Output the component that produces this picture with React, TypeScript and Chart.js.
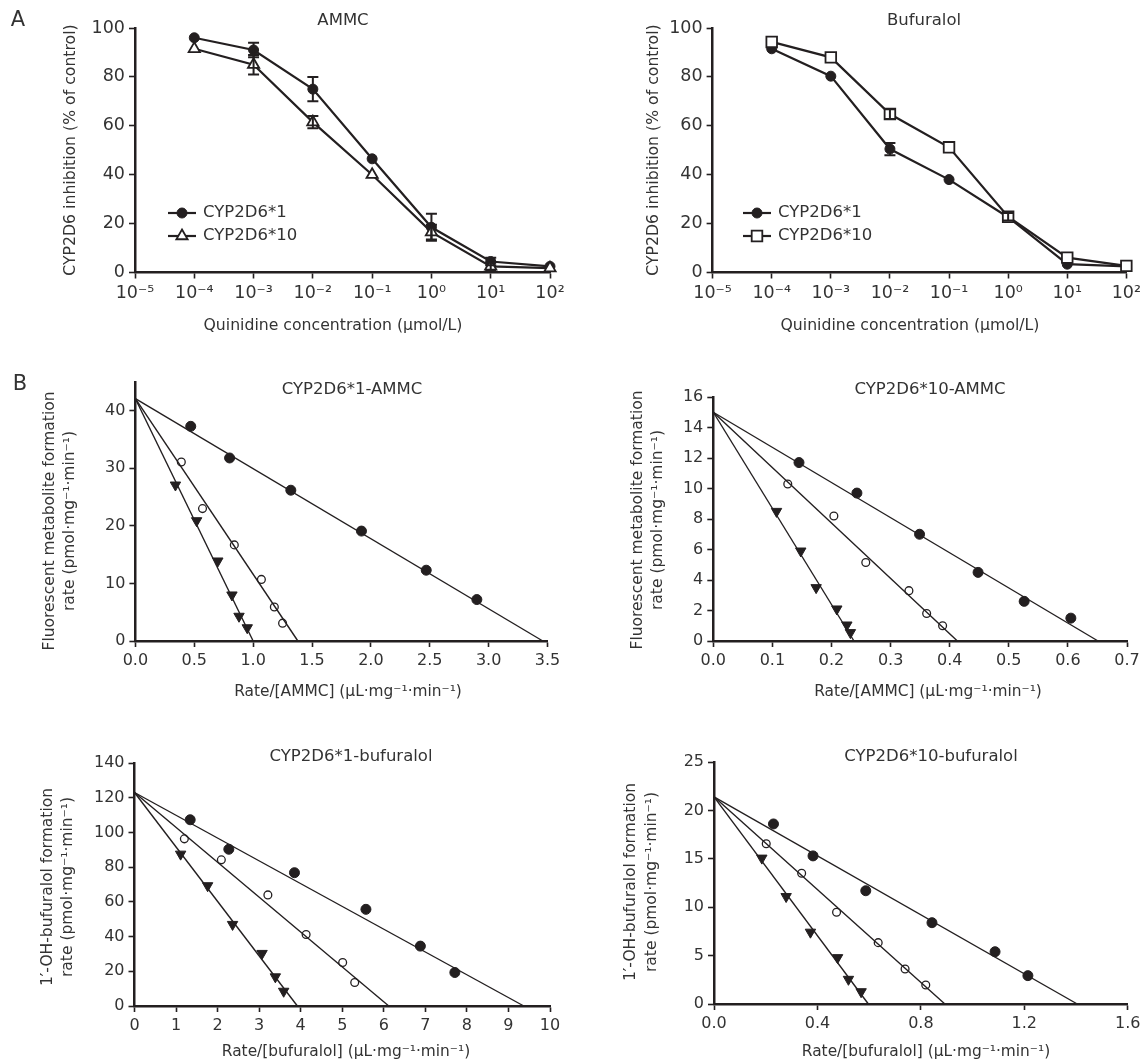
import React, { useEffect, useRef } from 'react';
import { Chart, registerables } from 'chart.js';

Chart.register(...registerables);

const W = 1145;
const H = 1063;
const FONT = '"DejaVu Sans", "Liberation Sans", sans-serif';
const INK = '#231f20';
const TEXT = '#333333';

// ---------------- Panel A: inhibition curves ----------------
const concentrations = [1e-4, 1e-3, 1e-2, 1e-1, 1, 10, 100];
const decadeExponents = [-5, -4, -3, -2, -1, 0, 1, 2];
const inhibitionTicks = [0, 20, 40, 60, 80, 100];

const ammcStar1 = [96, 91, 75, 46.5, 18.5, 4.5, 2.5];
const ammcStar1Err = [0, 3, 5, 0, 5.5, 1.5, 0];
const ammcStar10 = [91.5, 85, 61.5, 40, 16.5, 2.5, 1.8];
const ammcStar10Err = [0, 4, 2.5, 0, 3, 1.5, 0];

const bufStar1 = [91.5, 80.3, 50.5, 38, 22.6, 3.4, 2.5];
const bufStar1Err = [0, 0, 2.5, 0, 0, 0, 0];
const bufStar10 = [94.3, 88, 64.8, 51.2, 22.8, 6.1, 2.7];
const bufStar10Err = [0, 0, 2, 0, 1.5, 0, 0];

// ---------------- Panel B: Eadie-Hofstee plots ----------------
// B1 CYP2D6*1-AMMC
const b1XTicks = [0, 0.5, 1, 1.5, 2, 2.5, 3, 3.5];
const b1YTicks = [0, 10, 20, 30, 40];
const b1FilledX = [0.47, 0.8, 1.32, 1.92, 2.47, 2.9];
const b1FilledY = [37.3, 31.8, 26.2, 19.1, 12.3, 7.2];
const b1OpenX = [0.39, 0.57, 0.84, 1.07, 1.18, 1.25];
const b1OpenY = [31.1, 23.0, 16.7, 10.7, 5.9, 3.1];
const b1TriX = [0.34, 0.52, 0.7, 0.82, 0.88, 0.95];
const b1TriY = [27.1, 20.9, 13.9, 8.0, 4.3, 2.3];
const b1Vmax = 42.1;
const b1XIntercepts = [3.46, 1.38, 1.0];

// B2 CYP2D6*10-AMMC
const b2XTicks = [0, 0.1, 0.2, 0.3, 0.4, 0.5, 0.6, 0.7];
const b2YTicks = [0, 2, 4, 6, 8, 10, 12, 14, 16];
const b2FilledX = [0.145, 0.243, 0.349, 0.448, 0.526, 0.605];
const b2FilledY = [11.7, 9.7, 7.0, 4.5, 2.6, 1.5];
const b2OpenX = [0.126, 0.204, 0.258, 0.331, 0.361, 0.388];
const b2OpenY = [10.3, 8.2, 5.15, 3.3, 1.8, 1.0];
const b2TriX = [0.107, 0.148, 0.174, 0.209, 0.226, 0.232];
const b2TriY = [8.5, 5.9, 3.5, 2.1, 1.05, 0.55];
const b2Vmax = 15.0;
const b2XIntercepts = [0.651, 0.413, 0.238];

// B3 CYP2D6*1-bufuralol
const b3XTicks = [0, 1, 2, 3, 4, 5, 6, 7, 8, 9, 10];
const b3YTicks = [0, 20, 40, 60, 80, 100, 120, 140];
const b3FilledX = [1.34, 2.27, 3.85, 5.57, 6.88, 7.71];
const b3FilledY = [107.3, 90.3, 76.8, 55.7, 34.5, 19.3];
const b3OpenX = [1.2, 2.09, 3.21, 4.13, 5.01, 5.3];
const b3OpenY = [96.3, 84.2, 64.0, 41.2, 25.1, 13.5];
const b3TriX = [1.11, 1.76, 2.36, 3.07, 3.39, 3.59];
const b3TriY = [87.5, 69.3, 47.0, 30.3, 16.8, 8.5];
const b3Vmax = 123;
const b3XIntercepts = [9.37, 6.12, 3.92];

// B4 CYP2D6*10-bufuralol
const b4XTicks = [0, 0.4, 0.8, 1.2, 1.6];
const b4YTicks = [0, 5, 10, 15, 20, 25];
const b4FilledX = [0.23, 0.383, 0.587, 0.843, 1.087, 1.214];
const b4FilledY = [18.6, 15.3, 11.7, 8.4, 5.4, 2.93];
const b4OpenX = [0.202, 0.339, 0.474, 0.635, 0.739, 0.819];
const b4OpenY = [16.55, 13.5, 9.48, 6.34, 3.62, 1.97];
const b4TriX = [0.185, 0.279, 0.373, 0.478, 0.52, 0.569];
const b4TriY = [15.07, 11.1, 7.42, 4.79, 2.55, 1.27];
const b4Vmax = 21.4;
const b4XIntercepts = [1.405, 0.893, 0.597];

// ---------------- helpers ----------------
const SUP: Record<string, string> = {
  '-': '⁻', '0': '⁰', '1': '¹', '2': '²', '3': '³', '4': '⁴',
  '5': '⁵', '6': '⁶', '7': '⁷', '8': '⁸', '9': '⁹',
};
const sup = (s: string) => s.split('').map((c) => SUP[c] ?? c).join('');
const decadeLabel = (v: number) => '10' + sup(String(Math.round(Math.log10(v))));

const zip = (xs: number[], ys: number[]) => xs.map((x, i) => ({ x, y: ys[i] }));

function drawMarker(ctx: CanvasRenderingContext2D, m: any, x: number, y: number) {
  ctx.save();
  ctx.beginPath();
  const r = m.radius;
  if (m.style === 'circle') {
    ctx.arc(x, y, r, 0, Math.PI * 2);
  } else if (m.style === 'triangle') {
    ctx.moveTo(x, y - r);
    ctx.lineTo(x + r * Math.sin((2 * Math.PI) / 3), y - r * Math.cos((2 * Math.PI) / 3));
    ctx.lineTo(x + r * Math.sin((4 * Math.PI) / 3), y - r * Math.cos((4 * Math.PI) / 3));
    ctx.closePath();
  } else {
    const s = r * Math.SQRT1_2;
    ctx.rect(x - s, y - s, 2 * s, 2 * s);
  }
  ctx.fillStyle = m.fill;
  ctx.fill();
  ctx.lineWidth = m.borderWidth;
  ctx.strokeStyle = INK;
  ctx.stroke();
  ctx.restore();
}

const errorBarPlugin = {
  id: 'errorBars',
  afterDatasetsDraw(chart: any) {
    const ctx = chart.ctx;
    const xs = chart.scales.x;
    const ys = chart.scales.y;
    chart.data.datasets.forEach((ds: any) => {
      if (!ds.errors) return;
      ds.data.forEach((pt: any, j: number) => {
        const e = ds.errors[j];
        if (!e) return;
        const px = xs.getPixelForValue(pt.x);
        const top = ys.getPixelForValue(pt.y + e);
        const bot = ys.getPixelForValue(pt.y - e);
        ctx.save();
        ctx.strokeStyle = INK;
        ctx.lineWidth = 2;
        ctx.beginPath();
        ctx.moveTo(px, top);
        ctx.lineTo(px, bot);
        ctx.moveTo(px - 5.5, top);
        ctx.lineTo(px + 5.5, top);
        ctx.moveTo(px - 5.5, bot);
        ctx.lineTo(px + 5.5, bot);
        ctx.stroke();
        ctx.restore();
      });
    });
  },
};

const legendPlugin = {
  id: 'lineLegend',
  afterDraw(chart: any, _args: any, opts: any) {
    if (!opts || !opts.show) return;
    const ctx = chart.ctx;
    chart.data.datasets.forEach((ds: any, i: number) => {
      if (!ds.legendMarker) return;
      const y = opts.y + i * opts.dy;
      ctx.save();
      ctx.strokeStyle = INK;
      ctx.lineWidth = 2.2;
      ctx.beginPath();
      ctx.moveTo(opts.x, y);
      ctx.lineTo(opts.x + opts.len, y);
      ctx.stroke();
      ctx.restore();
      drawMarker(ctx, ds.legendMarker, opts.x + opts.len / 2, y);
      ctx.save();
      ctx.fillStyle = TEXT;
      ctx.font = `${opts.size}px ${FONT}`;
      ctx.textAlign = 'left';
      ctx.textBaseline = 'middle';
      ctx.fillText(ds.label, opts.x + opts.len + 7, y);
      ctx.restore();
    });
  },
};

const textPlugin = {
  id: 'panelTexts',
  afterDraw(chart: any, _args: any, opts: any) {
    if (!opts || !opts.items) return;
    const ctx = chart.ctx;
    opts.items.forEach((t: any) => {
      ctx.save();
      ctx.translate(t.x, t.y);
      if (t.rotate) ctx.rotate(t.rotate);
      ctx.fillStyle = TEXT;
      ctx.font = `${t.size}px ${FONT}`;
      ctx.textAlign = t.align || 'center';
      ctx.textBaseline = 'middle';
      ctx.fillText(t.text, 0, 0);
      ctx.restore();
    });
  },
};

type Area = { l: number; t: number; r: number; b: number };

function axisOptions(area: Area, xs: any, ys: any, tickSize: number) {
  const common = {
    grid: {
      display: true,
      drawOnChartArea: false,
      drawTicks: true,
      tickLength: 6,
      tickWidth: 1.6,
      tickColor: INK,
    },
    border: { display: true, color: INK, width: 2.5 },
  };
  return {
    x: {
      type: xs.type,
      min: xs.min,
      max: xs.max,
      afterFit: (s: any) => {
        s.height = 40;
      },
      afterBuildTicks: (s: any) => {
        s.ticks = xs.ticks.map((v: number) => ({ value: v }));
      },
      ticks: {
        callback: (v: any) => xs.format(Number(v)),
        font: { family: FONT, size: tickSize },
        color: TEXT,
        maxRotation: 0,
        autoSkip: false,
        padding: 4,
      },
      ...common,
    },
    y: {
      type: 'linear',
      min: ys.min,
      max: ys.max,
      afterFit: (s: any) => {
        s.width = area.l;
      },
      afterBuildTicks: (s: any) => {
        s.ticks = ys.ticks.map((v: number) => ({ value: v }));
      },
      ticks: {
        callback: (v: any) => String(v),
        font: { family: FONT, size: tickSize },
        color: TEXT,
        autoSkip: false,
        padding: 4,
      },
      ...common,
    },
  };
}

function baseOptions(area: Area) {
  return {
    responsive: false,
    animation: false,
    events: [],
    layout: {
      padding: { left: 0, top: area.t, right: W - area.r, bottom: H - area.b - 40 },
    },
  };
}

function panelA(p: any) {
  const area: Area = p.area;
  const r2 = p.style2 === 'rect' ? 7.5 : 6.5;
  return {
    type: 'line',
    data: {
      datasets: [
        {
          label: 'CYP2D6*10',
          data: zip(concentrations, p.s2),
          errors: p.e2,
          borderColor: INK,
          borderWidth: 2.2,
          tension: 0,
          clip: false,
          pointStyle: p.style2,
          pointRadius: r2,
          pointBackgroundColor: '#ffffff',
          pointBorderColor: INK,
          pointBorderWidth: 1.8,
          legendMarker: { style: p.style2, radius: r2, fill: '#ffffff', borderWidth: 1.8 },
        },
        {
          label: 'CYP2D6*1',
          data: zip(concentrations, p.s1),
          errors: p.e1,
          borderColor: INK,
          borderWidth: 2.2,
          tension: 0,
          clip: false,
          pointStyle: 'circle',
          pointRadius: 5,
          pointBackgroundColor: INK,
          pointBorderColor: INK,
          pointBorderWidth: 1,
          legendMarker: { style: 'circle', radius: 5, fill: INK, borderWidth: 1 },
        },
      ],
    },
    options: {
      ...baseOptions(area),
      scales: axisOptions(
        area,
        {
          type: 'logarithmic',
          min: 1e-5,
          max: 100,
          ticks: decadeExponents.map((e) => Math.pow(10, e)),
          format: decadeLabel,
        },
        { min: 0, max: 100, ticks: inhibitionTicks },
        17.5,
      ),
      plugins: {
        legend: { display: false },
        tooltip: { enabled: false },
        lineLegend: { show: true, ...p.legend },
        panelTexts: { items: p.texts },
      },
    },
    plugins: [errorBarPlugin, legendPlugin, textPlugin],
  };
}

function panelB(p: any) {
  const area: Area = p.area;
  const lineDs = (xint: number) => ({
    type: 'line',
    data: [
      { x: 0, y: p.vmax },
      { x: xint, y: 0 },
    ],
    borderColor: INK,
    borderWidth: 1.4,
    pointRadius: 0,
    showLine: true,
    clip: false,
  });
  return {
    type: 'scatter',
    data: {
      datasets: [
        lineDs(p.xint[0]),
        lineDs(p.xint[1]),
        lineDs(p.xint[2]),
        {
          data: zip(p.fx, p.fy),
          pointStyle: 'circle',
          pointRadius: 5,
          pointBackgroundColor: INK,
          pointBorderColor: INK,
          pointBorderWidth: 1,
          clip: false,
        },
        {
          data: zip(p.ox, p.oy),
          pointStyle: 'circle',
          pointRadius: 3.9,
          pointBackgroundColor: '#ffffff',
          pointBorderColor: INK,
          pointBorderWidth: 1.3,
          clip: false,
        },
        {
          data: zip(p.tx, p.ty),
          pointStyle: 'triangle',
          rotation: 180,
          pointRotation: 180,
          pointRadius: 6,
          pointBackgroundColor: INK,
          pointBorderColor: INK,
          pointBorderWidth: 1,
          clip: false,
        },
      ],
    },
    options: {
      ...baseOptions(area),
      scales: axisOptions(
        area,
        { type: 'linear', min: p.xTicks[0], max: p.xmax, ticks: p.xTicks, format: p.xfmt },
        { min: 0, max: p.ymax, ticks: p.yTicks },
        16,
      ),
      plugins: {
        legend: { display: false },
        tooltip: { enabled: false },
        panelTexts: { items: p.texts },
      },
    },
    plugins: [textPlugin],
  };
}

const ROT = -Math.PI / 2;
const UNIT = '(pmol·mg⁻¹·min⁻¹)';
const XUNIT = '(μL·mg⁻¹·min⁻¹)';
const fix1 = (v: number) => v.toFixed(1);
const int0 = (v: number) => String(Math.round(v));

const configs = [
  panelA({
    area: { l: 135, t: 28, r: 550, b: 272.5 },
    s1: ammcStar1,
    e1: ammcStar1Err,
    s2: ammcStar10,
    e2: ammcStar10Err,
    style2: 'triangle',
    legend: { x: 168, y: 236, dy: -23, len: 28, size: 16.5 },
    texts: [
      { text: 'A', x: 18, y: 21, size: 21 },
      { text: 'AMMC', x: 343, y: 21, size: 16.5 },
      { text: 'CYP2D6 inhibition (% of control)', x: 71, y: 150, size: 15.7, rotate: ROT },
      { text: 'Quinidine concentration (μmol/L)', x: 333, y: 326, size: 15.7 },
    ],
  }),
  panelA({
    area: { l: 712.6, t: 28, r: 1127.7, b: 272.5 },
    s1: bufStar1,
    e1: bufStar1Err,
    s2: bufStar10,
    e2: bufStar10Err,
    style2: 'rect',
    legend: { x: 743, y: 236, dy: -23, len: 28, size: 16.5 },
    texts: [
      { text: 'Bufuralol', x: 924, y: 21, size: 16.5 },
      { text: 'CYP2D6 inhibition (% of control)', x: 654, y: 150, size: 15.7, rotate: ROT },
      { text: 'Quinidine concentration (μmol/L)', x: 910, y: 326, size: 15.7 },
    ],
  }),
  panelB({
    area: { l: 135.4, t: 382, r: 547.5, b: 641 },
    fx: b1FilledX, fy: b1FilledY, ox: b1OpenX, oy: b1OpenY, tx: b1TriX, ty: b1TriY,
    vmax: b1Vmax, xint: b1XIntercepts,
    xTicks: b1XTicks, yTicks: b1YTicks, xmax: 3.5, ymax: 45, xfmt: fix1,
    texts: [
      { text: 'B', x: 20, y: 385, size: 21 },
      { text: 'CYP2D6*1-AMMC', x: 352, y: 390, size: 16.5 },
      { text: 'Fluorescent metabolite formation', x: 50, y: 521, size: 15.5, rotate: ROT },
      { text: 'rate ' + UNIT, x: 70, y: 521, size: 15.5, rotate: ROT },
      { text: 'Rate/[AMMC] ' + XUNIT, x: 348, y: 692, size: 15.4 },
    ],
  }),
  panelB({
    area: { l: 713.3, t: 397, r: 1127, b: 641 },
    fx: b2FilledX, fy: b2FilledY, ox: b2OpenX, oy: b2OpenY, tx: b2TriX, ty: b2TriY,
    vmax: b2Vmax, xint: b2XIntercepts,
    xTicks: b2XTicks, yTicks: b2YTicks, xmax: 0.7, ymax: 16, xfmt: fix1,
    texts: [
      { text: 'CYP2D6*10-AMMC', x: 930, y: 390, size: 16.5 },
      { text: 'Fluorescent metabolite formation', x: 638, y: 520, size: 15.5, rotate: ROT },
      { text: 'rate ' + UNIT, x: 658, y: 520, size: 15.5, rotate: ROT },
      { text: 'Rate/[AMMC] ' + XUNIT, x: 928, y: 692, size: 15.4 },
    ],
  }),
  panelB({
    area: { l: 134.5, t: 763, r: 550, b: 1006 },
    fx: b3FilledX, fy: b3FilledY, ox: b3OpenX, oy: b3OpenY, tx: b3TriX, ty: b3TriY,
    vmax: b3Vmax, xint: b3XIntercepts,
    xTicks: b3XTicks, yTicks: b3YTicks, xmax: 10, ymax: 140, xfmt: int0,
    texts: [
      { text: 'CYP2D6*1-bufuralol', x: 351, y: 757, size: 16.5 },
      { text: '1′-OH-bufuralol formation', x: 48, y: 887, size: 15.5, rotate: ROT },
      { text: 'rate ' + UNIT, x: 68, y: 887, size: 15.5, rotate: ROT },
      { text: 'Rate/[bufuralol] ' + XUNIT, x: 346, y: 1052, size: 15.4 },
    ],
  }),
  panelB({
    area: { l: 714, t: 762, r: 1127.7, b: 1004 },
    fx: b4FilledX, fy: b4FilledY, ox: b4OpenX, oy: b4OpenY, tx: b4TriX, ty: b4TriY,
    vmax: b4Vmax, xint: b4XIntercepts,
    xTicks: b4XTicks, yTicks: b4YTicks, xmax: 1.6, ymax: 25, xfmt: fix1,
    texts: [
      { text: 'CYP2D6*10-bufuralol', x: 931, y: 757, size: 16.5 },
      { text: '1′-OH-bufuralol formation', x: 631, y: 882, size: 15.5, rotate: ROT },
      { text: 'rate ' + UNIT, x: 652, y: 882, size: 15.5, rotate: ROT },
      { text: 'Rate/[bufuralol] ' + XUNIT, x: 926, y: 1052, size: 15.4 },
    ],
  }),
];

function ChartLayer({ config }: { config: any }) {
  const ref = useRef<HTMLCanvasElement | null>(null);
  useEffect(() => {
    if (!ref.current) return;
    const chart = new Chart(ref.current, config);
    return () => chart.destroy();
  }, [config]);
  return (
    <canvas
      ref={ref}
      width={W}
      height={H}
      style={{ position: 'absolute', left: 0, top: 0, width: W, height: H }}
    />
  );
}

export default function App() {
  return (
    <div style={{ position: 'absolute', left: 0, top: 0, width: W, height: H, background: '#ffffff' }}>
      {configs.map((c, i) => (
        <ChartLayer key={i} config={c} />
      ))}
    </div>
  );
}
